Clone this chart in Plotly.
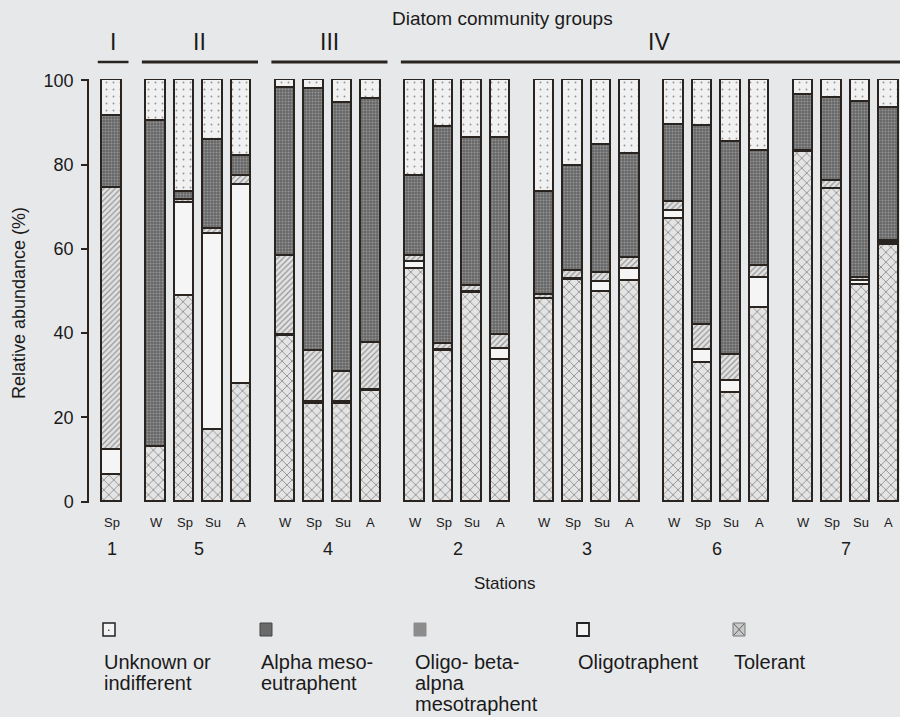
import plotly.graph_objects as go

# ---------------- data ----------------
stations = ["1", "5", "4", "2", "3", "6", "7"]
station_seasons = [["Sp"], ["W", "Sp", "Su", "A"], ["W", "Sp", "Su", "A"], ["W", "Sp", "Su", "A"],
                   ["W", "Sp", "Su", "A"], ["W", "Sp", "Su", "A"], ["W", "Sp", "Su", "A"]]
community_groups = ["I", "II", "III", "IV"]
group_station_idx = [[0], [1], [2], [3, 4, 5, 6]]

tolerant = [6.4, 12.9, 48.8, 17.0, 27.9, 39.3, 23.3, 23.3, 26.3, 55.2, 35.7, 49.5, 33.6,
            48.2, 52.5, 49.7, 52.3, 67.1, 32.9, 25.7, 46.0, 83.0, 74.2, 51.5, 61.0]
oligotraphent = [5.9, 0.0, 22.0, 46.6, 47.3, 0.3, 0.3, 0.3, 0.3, 1.6, 0.3, 0.3, 2.6,
                 0.0, 0.3, 2.5, 3.0, 2.0, 3.1, 3.0, 7.1, 0.3, 0.0, 0.8, 0.3]
oligo_beta_alpha = [62.2, 0.0, 0.9, 1.0, 2.0, 18.8, 12.1, 7.1, 11.1, 1.6, 1.5, 1.3, 3.3,
                    0.8, 1.9, 2.1, 2.5, 2.1, 6.0, 6.0, 2.9, 0.0, 1.8, 0.8, 0.6]
alpha_meso = [17.0, 77.5, 1.9, 21.2, 4.9, 39.8, 62.3, 63.8, 57.8, 19.0, 51.5, 35.3, 46.8,
              24.4, 25.0, 30.3, 24.7, 18.3, 47.1, 50.6, 27.3, 13.3, 19.8, 41.8, 31.6]
unknown = [8.5, 9.6, 26.4, 14.2, 17.9, 1.8, 2.0, 5.5, 4.5, 22.6, 11.0, 13.6, 13.7,
           26.6, 20.3, 15.4, 17.5, 10.5, 10.9, 14.7, 16.7, 3.4, 4.2, 5.1, 6.5]

legend_labels = ["Unknown or<br>indifferent", "Alpha meso-<br>eutraphent",
                 "Oligo- beta-<br>alpna<br>mesotraphent", "Oligotraphent", "Tolerant"]
y_ticks = [0, 20, 40, 60, 80, 100]

# ---------------- layout helpers ----------------
W_, H_ = 900, 717
ML, MR, MT, MB = 89, 0, 79, 214
PW, PH = W_ - ML - MR, H_ - MT - MB
def pxp(px):  # pixel -> paper x
    return (px - ML) / PW
def pyp(py):  # pixel -> paper y
    return (H_ - MB - py) / PH

GROUP_STEP = 1.55
xpos, season_lab, station_centers = [], [], []
cur = 0.0
for si, seas in enumerate(station_seasons):
    if si > 0:
        cur += GROUP_STEP - 1
    first = cur
    for s in seas:
        xpos.append(cur)
        season_lab.append(s)
        cur += 1
    station_centers.append((first + cur - 1) / 2)
station_first, station_last = [], []
k = 0
for seas in station_seasons:
    station_first.append(xpos[k])
    station_last.append(xpos[k + len(seas) - 1])
    k += len(seas)

LINE = "#2a2421"
BW = 0.685
BG = "#e7e8ea"

fig = go.Figure()
series = [
    ("Tolerant", tolerant, dict(shape="x", fgcolor="#2a2a2a", bgcolor="#e4e4e4", size=7, solidity=0.22)),
    ("Oligotraphent", oligotraphent, None),
    ("Oligo-beta-alpha mesotraphent", oligo_beta_alpha, dict(shape="/", fgcolor="#4a4a4a", bgcolor="#e2e2e2", size=4, solidity=0.3)),
    ("Alpha meso-eutraphent", alpha_meso, dict(shape=".", fgcolor="#c4c4c4", bgcolor="#666666", size=3, solidity=0.35)),
    ("Unknown or indifferent", unknown, dict(shape=".", fgcolor="#3a3a3a", bgcolor="#f1f1f1", size=7, solidity=0.06)),
]
for name, vals, pat in series:
    marker = dict(color="#f5f5f5", line=dict(color=LINE, width=1.6))
    if pat is not None:
        marker["pattern"] = pat
        marker["color"] = pat["bgcolor"]
    fig.add_trace(go.Bar(x=xpos, y=vals, name=name, width=BW, marker=marker,
                         showlegend=False, hoverinfo="name+y"))

FONT = "Liberation Sans, Arial, sans-serif"
TXT = "#1a1a1a"
ann = []
for x, s in zip(xpos, season_lab):
    ann.append(dict(x=x, y=pyp(522), xref="x", yref="paper", text=s, showarrow=False,
                    font=dict(size=13, family=FONT, color=TXT), xanchor="center", yanchor="middle"))
for c, st in zip(station_centers, stations):
    ann.append(dict(x=c, y=pyp(549), xref="x", yref="paper", text=st, showarrow=False,
                    font=dict(size=18, family=FONT, color=TXT), xanchor="center", yanchor="middle"))
ann.append(dict(x=pxp(504), y=pyp(583), xref="paper", yref="paper", text="Stations", showarrow=False,
                font=dict(size=17, family=FONT, color=TXT), xanchor="center", yanchor="middle"))
ann.append(dict(x=pxp(19), y=pyp(303), xref="paper", yref="paper", text="Relative abundance (%)",
                textangle=-90, showarrow=False, font=dict(size=18, family=FONT, color=TXT),
                xanchor="center", yanchor="middle"))
ann.append(dict(x=pxp(503), y=pyp(19), xref="paper", yref="paper", text="Diatom community groups",
                showarrow=False, font=dict(size=19, family=FONT, color=TXT), xanchor="center", yanchor="middle"))

shapes = []
for gi, (g, idxs) in enumerate(zip(community_groups, group_station_idx)):
    x0 = station_first[idxs[0]] - 0.5
    x1 = station_last[idxs[-1]] + 0.58
    if gi == len(community_groups) - 1:
        xc = (x0 + x1) / 2 + 0.2
        x1 = x1 + 2
    else:
        xc = (x0 + x1) / 2
    shapes.append(dict(type="line", xref="x", yref="paper", x0=x0, x1=x1, y0=pyp(62), y1=pyp(62),
                       line=dict(color=LINE, width=3 if gi else 2.5)))
    ann.append(dict(x=xc, y=pyp(42), xref="x", yref="paper", text=g, showarrow=False,
                    font=dict(size=23, family="Liberation Sans Narrow, " + FONT, color=TXT),
                    xanchor="center", yanchor="middle"))

# custom legend
leg_x = [103, 260, 414, 577, 733]
icon_style = [
    dict(fill="#f3f3f3", line="#222", lw=1.5),
    dict(fill="#6a6a6a", line="#444", lw=1),
    dict(fill="#8c8c8c", line="#8c8c8c", lw=1),
    dict(fill="#f3f3f3", line="#222", lw=1.8),
    dict(fill="#c9c9c9", line="#777", lw=1),
]
for lx, lab, st in zip(leg_x, legend_labels, icon_style):
    shapes.append(dict(type="rect", xref="paper", yref="paper", x0=pxp(lx), x1=pxp(lx + 12),
                       y0=pyp(636), y1=pyp(623), fillcolor=st["fill"],
                       line=dict(color=st["line"], width=st["lw"])))
    for li, line_txt in enumerate(lab.split("<br>")):
        ann.append(dict(x=pxp(lx - 1), y=pyp(662 + 21 * li), xref="paper", yref="paper",
                        text=line_txt, showarrow=False, align="left", xanchor="left",
                        yanchor="middle", font=dict(size=20, family=FONT, color=TXT)))
shapes.append(dict(type="circle", xref="paper", yref="paper", x0=pxp(108), x1=pxp(109.6),
                   y0=pyp(631), y1=pyp(629.4), fillcolor="#333", line=dict(width=0)))
shapes.append(dict(type="line", xref="paper", yref="paper", x0=pxp(734), x1=pxp(744),
                   y0=pyp(635), y1=pyp(624), line=dict(color="#666", width=1)))
shapes.append(dict(type="line", xref="paper", yref="paper", x0=pxp(734), x1=pxp(744),
                   y0=pyp(624), y1=pyp(635), line=dict(color="#666", width=1)))

fig.update_layout(
    width=W_, height=H_,
    margin=dict(l=ML, r=MR, t=MT, b=MB, pad=0),
    barmode="stack",
    bargap=0,
    paper_bgcolor=BG,
    plot_bgcolor=BG,
    showlegend=False,
    annotations=ann,
    shapes=shapes,
    xaxis=dict(range=[(89 - 112) / 28.46, (900 - 112) / 28.46], showgrid=False,
               zeroline=False, showline=False, showticklabels=False, ticks=""),
    yaxis=dict(range=[-0.3, 100.3], tickvals=y_ticks, showgrid=False, zeroline=False,
               showline=True, linecolor=LINE, linewidth=1.5, ticks="outside", ticklen=6,
               tickwidth=1.5, tickcolor=LINE, ticklabelstandoff=4,
               tickfont=dict(size=18, family=FONT, color=TXT)),
    font=dict(family=FONT, color=TXT),
)

fig.write_html("out.html", config={"displayModeBar": False},
               post_script="document.body.style.margin='0';document.body.style.padding='0';"
                           "document.body.style.overflow='hidden';"
                           "document.body.style.background='" + BG + "';")
